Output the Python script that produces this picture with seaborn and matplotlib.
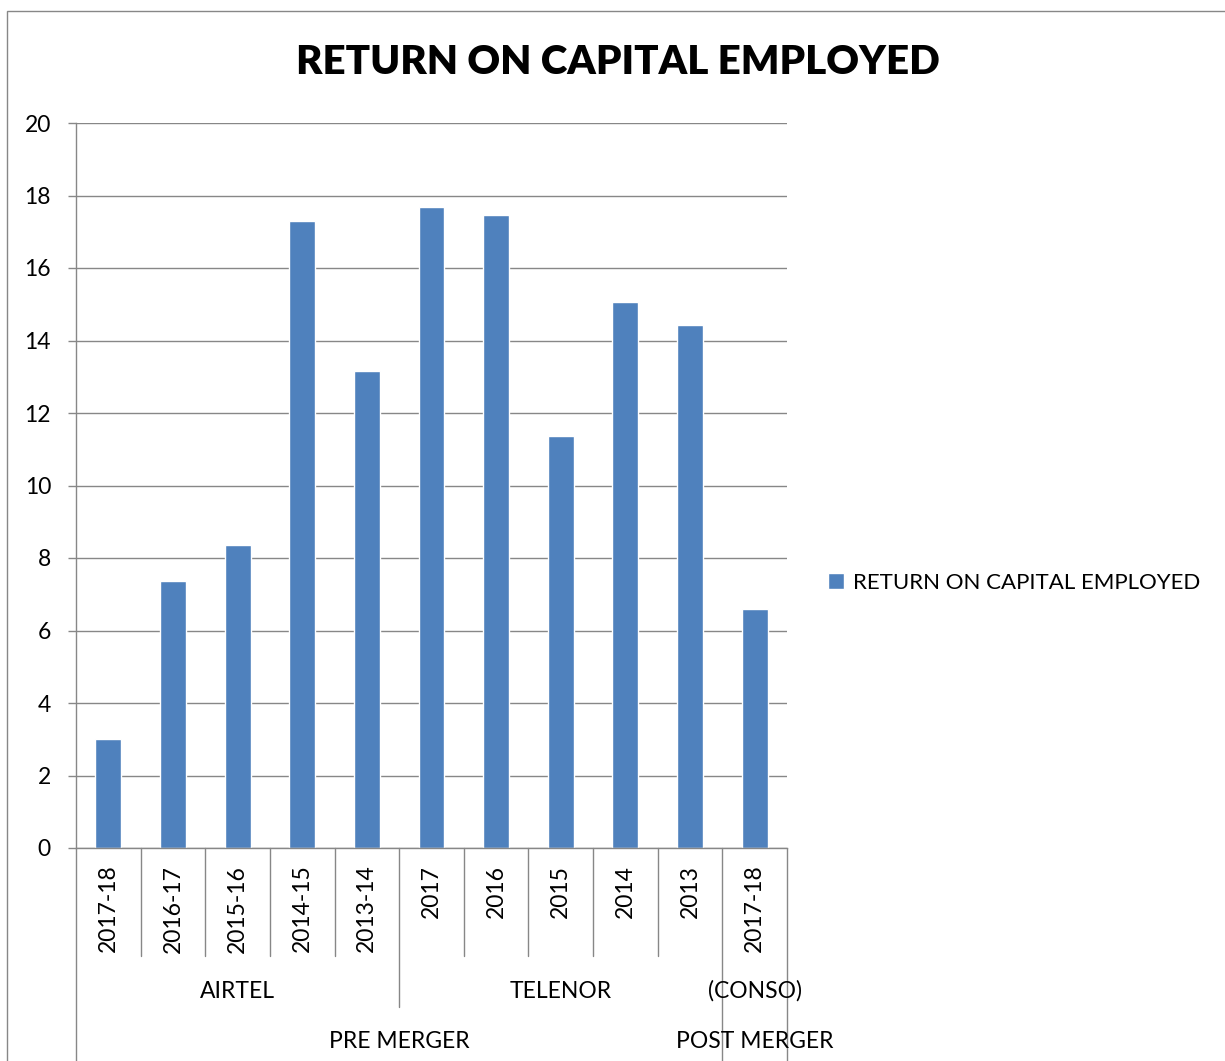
import pandas as pd
import matplotlib
matplotlib.use("Agg")
import matplotlib.pyplot as plt
import matplotlib.transforms as mtransforms
from matplotlib.patches import Rectangle
import seaborn as sns

# Chart data
years = ["2017-18", "2016-17", "2015-16", "2014-15", "2013-14",
         "2017", "2016", "2015", "2014", "2013", "2017-18"]
companies = ["AIRTEL"] * 5 + ["TELENOR"] * 5 + ["(CONSO)"]
phases = ["PRE MERGER"] * 10 + ["POST MERGER"]
roce = [3.0, 7.37, 8.36, 17.3, 13.16, 17.68, 17.46, 11.37, 15.06, 14.43, 6.59]

series_name = "RETURN ON CAPITAL EMPLOYED"
bar_color = "#4F81BD"
grey = "#878787"

df = pd.DataFrame({"year": years, "company": companies, "phase": phases, "roce": roce})
df["key"] = [f"{c} {y}" for c, y in zip(df["company"], df["year"])]

sns.set_theme(style="white")
plt.rcParams["font.family"] = ["Lato", "DejaVu Sans"]
plt.rcParams["text.color"] = "black"
plt.rcParams["xtick.color"] = "black"
plt.rcParams["ytick.color"] = "black"

fig = plt.figure(figsize=(12.25, 10.61), dpi=100)
ax = fig.add_axes([76 / 1225, 1 - 848 / 1061, (787 - 76) / 1225, (848 - 123) / 1061])

sns.barplot(data=df, x="key", y="roce", order=list(df["key"]), color=bar_color,
            saturation=1, width=0.4, ax=ax, label=series_name)

ax.set_xlim(-0.5, len(df) - 0.5)
ax.set_ylim(0, 20)
ax.set_yticks(range(0, 21, 2))
ax.set_xlabel("")
ax.set_ylabel("")
ax.set_xticks(range(len(df)))
ax.set_xticklabels(df["year"], rotation=90)
ax.tick_params(axis="x", length=0, pad=12, labelsize=16.5, labelcolor="black")
ax.tick_params(axis="y", left=True, length=6, width=1, color=grey, pad=12,
               labelsize=16.5, labelcolor="black")

ax.grid(axis="y", color=grey, linewidth=1)
ax.set_axisbelow(True)
for side in ["top", "right"]:
    ax.spines[side].set_visible(False)
for side in ["left", "bottom"]:
    ax.spines[side].set_color(grey)
    ax.spines[side].set_linewidth(1)

# separators of the multi-level category axis
trans = mtransforms.blended_transform_factory(ax.transData, fig.transFigure)
y_axis = 1 - 848 / 1061
y_lvl1 = 1 - 956 / 1061
y_lvl2 = 1 - 1007 / 1061
n = len(df)
for i in range(n + 1):
    x = i - 0.5
    prev_c = companies[i - 1] if i > 0 else None
    next_c = companies[i] if i < n else None
    prev_p = phases[i - 1] if i > 0 else None
    next_p = phases[i] if i < n else None
    if prev_p != next_p:
        y_end = 0
    elif prev_c != next_c:
        y_end = y_lvl2
    else:
        y_end = y_lvl1
    ax.plot([x, x], [y_axis, y_end], transform=trans, color=grey,
            linewidth=1, clip_on=False)

# group labels
for name in dict.fromkeys(companies):
    idx = [i for i, c in enumerate(companies) if c == name]
    ax.text((idx[0] + idx[-1]) / 2, 1 - 991 / 1061, name, transform=trans,
            ha="center", va="center", fontsize=16.5)
for name in dict.fromkeys(phases):
    idx = [i for i, p in enumerate(phases) if p == name]
    ax.text((idx[0] + idx[-1]) / 2, 1 - 1042 / 1061, name, transform=trans,
            ha="center", va="center", fontsize=16.5)

fig.text(618 / 1225, 1 - 63 / 1061, series_name, ha="center", va="center",
         fontsize=29, fontweight="heavy")

ax.legend(loc="center left", bbox_to_anchor=(817 / 1225, 1 - 583 / 1061),
          bbox_transform=fig.transFigure, frameon=False, fontsize=16,
          handlelength=0.7, handleheight=0.7, handletextpad=0.4, borderpad=0)

fig.patches.append(Rectangle((7 / 1225, -0.02), 1.1, 1 - 11 / 1061 + 0.02,
                             transform=fig.transFigure, fill=False,
                             edgecolor=grey, linewidth=1))

fig.savefig("out.png", dpi=100, facecolor="white")
